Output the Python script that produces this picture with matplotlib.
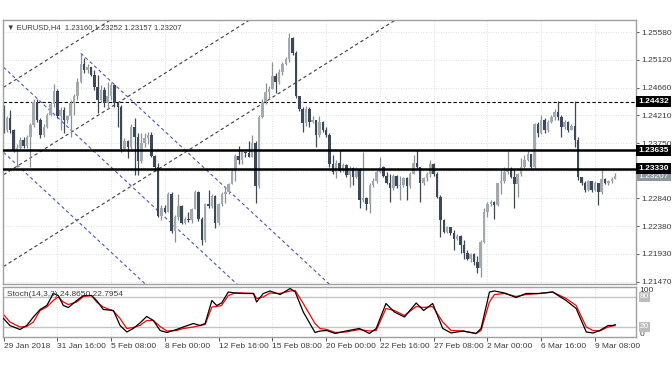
import matplotlib
matplotlib.use("Agg")
import matplotlib.pyplot as plt
import matplotlib.transforms as mtransforms
import numpy as np

plt.rcParams['font.family'] = ['Liberation Sans', 'DejaVu Sans']

# EURUSD H4 candles (bar 0 = 29 Jan 2018 00:00)
first_open = 1.2432
last_open = 1.23160

close = [
    1.2397, 1.2416, 1.2397, 1.2364, 1.2367, 1.2380, 1.2370, 1.2385, 1.2405, 1.2443,
    1.2413, 1.2388, 1.2402, 1.2421, 1.2440, 1.2461, 1.2419, 1.2430, 1.2413, 1.2419,
    1.2441, 1.2452, 1.2476, 1.2506, 1.2495, 1.2501, 1.2487, 1.2468, 1.2446, 1.2463,
    1.2441, 1.2453, 1.2471, 1.2441, 1.2434, 1.2365, 1.2378, 1.2368, 1.2402, 1.2386,
    1.2345, 1.2375, 1.2383, 1.2388, 1.2354, 1.2336, 1.2255, 1.2268, 1.2262, 1.2291,
    1.2231, 1.2253, 1.2272, 1.2244, 1.2251, 1.2249, 1.2266, 1.2294, 1.2250, 1.2215,
    1.2275, 1.2271, 1.2288, 1.2244, 1.2275, 1.2291, 1.2294, 1.2308, 1.2330, 1.2354,
    1.2347, 1.2361, 1.2359, 1.2353, 1.2376, 1.2305, 1.2418, 1.2443, 1.2460, 1.2465,
    1.2486, 1.2475, 1.2493, 1.2505, 1.2513, 1.2548, 1.2523, 1.2452, 1.2432, 1.2408,
    1.2432, 1.2410, 1.2414, 1.2388, 1.2410, 1.2397, 1.2388, 1.2341, 1.2328, 1.2343,
    1.2330, 1.2339, 1.2323, 1.2334, 1.2319, 1.2332, 1.2282, 1.2284, 1.2275, 1.2306,
    1.2313, 1.2328, 1.2335, 1.2321, 1.2310, 1.2301, 1.2321, 1.2305, 1.2306, 1.2317,
    1.2305, 1.2325, 1.2343, 1.2335, 1.2309, 1.2317, 1.2325, 1.2341, 1.2324, 1.2287,
    1.2249, 1.2229, 1.2237, 1.2227, 1.2217, 1.2222, 1.2207, 1.2194, 1.2184, 1.2193,
    1.2180, 1.2169, 1.2213, 1.2262, 1.2275, 1.2279, 1.2273, 1.2309, 1.2313, 1.2328,
    1.2331, 1.2320, 1.2308, 1.2324, 1.2336, 1.2348, 1.2357, 1.2336, 1.2407, 1.2391,
    1.2414, 1.2396, 1.2410, 1.2418, 1.2427, 1.2418, 1.2401, 1.2410, 1.2397, 1.2403,
    1.2381, 1.2319, 1.2309, 1.2298, 1.2312, 1.2298, 1.2310, 1.2294, 1.2316, 1.2309,
    1.2313, 1.2316, 1.23207]

high = [
    1.2438, 1.2420, 1.2430, 1.2399, 1.2374, 1.2386, 1.2385, 1.2388, 1.2408, 1.2448,
    1.2447, 1.2416, 1.2407, 1.2424, 1.2443, 1.2472, 1.2464, 1.2434, 1.2434, 1.2421,
    1.2446, 1.2456, 1.2482, 1.2523, 1.2515, 1.2506, 1.2501, 1.2496, 1.2487, 1.2471,
    1.2468, 1.2476, 1.2476, 1.2471, 1.2442, 1.2438, 1.2383, 1.2380, 1.2407, 1.2416,
    1.2391, 1.2391, 1.2391, 1.2394, 1.2394, 1.2356, 1.2342, 1.2273, 1.2273, 1.2295,
    1.2294, 1.2257, 1.2292, 1.2273, 1.2254, 1.2261, 1.2269, 1.2298, 1.2297, 1.2254,
    1.2277, 1.2298, 1.2292, 1.2290, 1.2277, 1.2295, 1.2305, 1.2310, 1.2332, 1.2358,
    1.2370, 1.2365, 1.2361, 1.2379, 1.2388, 1.2378, 1.2421, 1.2447, 1.2474, 1.2469,
    1.2509, 1.2491, 1.2497, 1.2508, 1.2517, 1.2556, 1.2550, 1.2526, 1.2453, 1.2434,
    1.2436, 1.2434, 1.2419, 1.2414, 1.2419, 1.2412, 1.2401, 1.2391, 1.2356, 1.2347,
    1.2364, 1.2343, 1.2341, 1.2337, 1.2336, 1.2335, 1.2334, 1.2361, 1.2287, 1.2310,
    1.2317, 1.2331, 1.2353, 1.2337, 1.2328, 1.2324, 1.2324, 1.2323, 1.2321, 1.2320,
    1.2319, 1.2328, 1.2356, 1.2364, 1.2336, 1.2320, 1.2328, 1.2347, 1.2342, 1.2328,
    1.2290, 1.2250, 1.2239, 1.2237, 1.2232, 1.2226, 1.2224, 1.2216, 1.2199, 1.2195,
    1.2194, 1.2189, 1.2216, 1.2268, 1.2279, 1.2282, 1.2280, 1.2310, 1.2331, 1.2336,
    1.2364, 1.2335, 1.2332, 1.2326, 1.2350, 1.2356, 1.2363, 1.2358, 1.2409, 1.2410,
    1.2421, 1.2416, 1.2413, 1.2421, 1.2432, 1.2444, 1.2421, 1.2413, 1.2412, 1.2407,
    1.2444, 1.2386, 1.2320, 1.2312, 1.2314, 1.2313, 1.2312, 1.2309, 1.2334, 1.2317,
    1.2315, 1.2319, 1.23252]

low = [
    1.2392, 1.2394, 1.2391, 1.2361, 1.2336, 1.2363, 1.2367, 1.2367, 1.2336, 1.2402,
    1.2410, 1.2383, 1.2386, 1.2400, 1.2419, 1.2435, 1.2416, 1.2397, 1.2391, 1.2408,
    1.2386, 1.2421, 1.2446, 1.2474, 1.2490, 1.2490, 1.2485, 1.2463, 1.2424, 1.2443,
    1.2435, 1.2432, 1.2446, 1.2435, 1.2402, 1.2361, 1.2363, 1.2350, 1.2365, 1.2323,
    1.2323, 1.2342, 1.2369, 1.2374, 1.2352, 1.2330, 1.2253, 1.2249, 1.2260, 1.2261,
    1.2227, 1.2213, 1.2249, 1.2242, 1.2242, 1.2246, 1.2244, 1.2268, 1.2247, 1.2207,
    1.2213, 1.2268, 1.2268, 1.2235, 1.2240, 1.2272, 1.2277, 1.2291, 1.2309, 1.2312,
    1.2341, 1.2341, 1.2352, 1.2352, 1.2352, 1.2276, 1.2302, 1.2416, 1.2440, 1.2447,
    1.2464, 1.2457, 1.2472, 1.2487, 1.2504, 1.2509, 1.2520, 1.2449, 1.2428, 1.2394,
    1.2403, 1.2402, 1.2408, 1.2369, 1.2386, 1.2394, 1.2385, 1.2335, 1.2325, 1.2317,
    1.2327, 1.2328, 1.2320, 1.2303, 1.2306, 1.2317, 1.2268, 1.2279, 1.2265, 1.2260,
    1.2303, 1.2309, 1.2326, 1.2319, 1.2308, 1.2279, 1.2298, 1.2302, 1.2281, 1.2303,
    1.2281, 1.2302, 1.2324, 1.2332, 1.2279, 1.2306, 1.2312, 1.2320, 1.2321, 1.2284,
    1.2221, 1.2227, 1.2227, 1.2224, 1.2199, 1.2216, 1.2194, 1.2185, 1.2182, 1.2180,
    1.2175, 1.2161, 1.2155, 1.2210, 1.2254, 1.2271, 1.2251, 1.2272, 1.2292, 1.2310,
    1.2324, 1.2317, 1.2268, 1.2287, 1.2321, 1.2334, 1.2345, 1.2331, 1.2334, 1.2386,
    1.2390, 1.2392, 1.2394, 1.2408, 1.2414, 1.2413, 1.2386, 1.2399, 1.2394, 1.2396,
    1.2369, 1.2315, 1.2306, 1.2295, 1.2297, 1.2295, 1.2297, 1.2273, 1.2291, 1.2307,
    1.2306, 1.2310, 1.23157]

# Stochastic(14,3,3): bar position, %K, %D
stoch_bar = [0, 1.9, 4.9, 6.9, 8.9, 10.9, 12.9, 14.8, 16.3, 17.8, 19.3, 21.8, 23.8,
             26.2, 27.7, 29.7, 32.7, 34.7, 36.7, 38.6, 40.6, 42.6, 44.6, 46.6, 48.6,
             51.5, 53.5, 56.5, 58.5, 60, 62, 63.4, 64.9, 66.9, 68.9, 71.4, 74.4, 75.3,
             77.3, 79.3, 82.3, 85.3, 86.8, 89.2, 92.7, 94.2, 96.2, 98.7, 101.9, 105.9,
             108.9, 110.9, 113.8, 116.3, 119.3, 122.8, 125, 127.7, 130.7, 133.2, 136.7,
             140.6, 142.1, 144.6, 146.1, 149.1, 152.5, 155.5, 159.4, 163.4, 167.4,
             170.4, 173.4, 175.4, 177.4, 179.9, 181.3, 182]
stoch_k = [37, 23, 15, 23, 40, 55, 63, 87, 83, 63, 59, 73, 83,
           83, 73, 55, 53, 23, 10, 17, 28, 41, 33, 13, 9,
           15, 20, 27, 23, 27, 73, 63, 68, 90, 88, 87, 87, 70,
           87, 92, 85, 97, 90, 50, 9, 12, 13, 7, 12, 17,
           7, 17, 67, 50, 40, 68, 53, 67, 17, 8, 12,
           7, 17, 90, 92, 88, 79, 87, 87, 90, 73,
           57, 10, 8, 13, 23, 23, 24.865]
stoch_d = [45, 30, 20, 21, 30, 53, 60, 73, 80, 70, 65, 70, 81,
           83, 70, 60, 52, 37, 17, 19, 23, 33, 33, 21, 12,
           13, 17, 20, 23, 25, 60, 61, 63, 83, 88, 88, 87, 77,
           80, 88, 87, 92, 93, 67, 27, 17, 15, 9, 10, 15,
           12, 13, 57, 53, 43, 61, 59, 61, 30, 13, 12,
           7, 13, 70, 85, 87, 81, 85, 87, 90, 77,
           63, 20, 13, 12, 20, 22, 22.795]

date_bars = [0, 16, 32, 48, 64, 80, 96, 112, 128, 144, 160, 176]
date_labels = ['29 Jan 2018', '31 Jan 16:00', '5 Feb 08:00', '8 Feb 00:00',
               '12 Feb 16:00', '15 Feb 08:00', '20 Feb 00:00', '22 Feb 16:00',
               '27 Feb 08:00', '2 Mar 00:00', '6 Mar 16:00', '9 Mar 08:00']
price_ticks = [1.2558, 1.2512, 1.2466, 1.2421, 1.2375, 1.2329, 1.2284, 1.2238, 1.2193, 1.2147]
# 1.23290 sits under the level boxes in the original, so it gets no label
hidden_tick = 1.2329

dashed_level = 1.24432
solid_levels = [1.23635, 1.23330]
last_price = 1.23207

# drawing objects: rising channel (start price at bar 0, slope per bar)
channel_starts = [1.2467, 1.2323, 1.2172]
channel_slope = 0.000348
# falling blue lines: (start bar, start price)
fall_lines = [(0, 1.2360), (0, 1.2500), (23, 1.2523)]
fall_slope = -0.000514

bull_body = '#a4a9ae'
bull_wick = '#8a9096'
bear_body = '#3a4858'
frame = '#a0a0a0'
grid_c = '#d6d6d6'
txt_c = '#3a3a3a'

W, H = 672, 372
fig = plt.figure(figsize=(W / 100, H / 100), dpi=100)
ax = fig.add_axes([3 / W, (H - 284) / H, 633 / W, 264 / H])
ax2 = fig.add_axes([3 / W, (H - 337) / H, 633 / W, 50 / H])

xlim = (-0.15, 188.2)
n = min(len(close), len(high), len(low))
x = np.arange(n)
c = np.array(close[:n])
o = np.r_[first_open, c[:-1]]
o[-1] = last_open
h = np.maximum(np.array(high[:n]), np.maximum(o, c))
l = np.minimum(np.array(low[:n]), np.minimum(o, c))
up = c >= o

# grid
for p in price_ticks:
    ax.axhline(p, color=grid_c, lw=0.6, ls=(0, (1, 2)), zorder=0)
for b in date_bars[1:]:
    ax.axvline(b, color=grid_c, lw=0.6, ls=(0, (1, 2)), zorder=0)
    ax2.axvline(b, color=grid_c, lw=0.6, ls=(0, (1, 2)), zorder=0)

# candles
ax.vlines(x[up], l[up], h[up], color=bull_wick, lw=0.9, zorder=2)
ax.vlines(x[~up], l[~up], h[~up], color=bear_body, lw=0.9, zorder=2)
body = np.maximum(np.abs(c - o), 0.00003)
ax.bar(x, body, bottom=np.minimum(o, c), width=0.75,
       color=np.where(up, bull_body, bear_body), linewidth=0, zorder=2)

# drawing objects
for p0 in channel_starts:
    ax.plot([0, 200], [p0, p0 + channel_slope * 200], color='#3c3c3c',
            lw=0.8, ls=(0, (3, 2.5)), zorder=1)
for b0, p0 in fall_lines:
    ax.plot([b0, 200], [p0, p0 + fall_slope * (200 - b0)], color='#5050c0',
            lw=0.8, ls=(0, (3, 2.5)), zorder=1)
ax.axhline(dashed_level, color='black', lw=0.8, ls=(0, (3, 2)), zorder=1)
for lv in solid_levels:
    ax.axhline(lv, color='black', lw=1.8, zorder=3)

ax.set_xlim(*xlim)
ax.set_ylim(1.21432, 1.25778)
ax.set_xticks([])
ax.yaxis.tick_right()
ax.set_yticks(price_ticks)
ax.set_yticklabels(['' if p == hidden_tick else '%.5f' % p for p in price_ticks])
ax.tick_params(axis='y', length=2.5, width=0.6, pad=1.5, labelsize=6,
               colors=txt_c)
for s in ax.spines.values():
    s.set_color(frame)
    s.set_linewidth(1)

# price labels on the right scale
trans = mtransforms.blended_transform_factory(ax.transAxes, ax.transData)
ax.text(1.004, last_price, '%.5f' % last_price, transform=trans, ha='left',
        va='center', fontsize=6, color='white', clip_on=False, zorder=4,
        bbox=dict(boxstyle='square,pad=0.2', fc='#8c959e', ec='none'))
for lv in [dashed_level] + solid_levels:
    ax.text(1.004, lv, '%.5f' % lv, transform=trans, ha='left', va='center',
            fontsize=6, color='white', fontweight='bold', clip_on=False, zorder=5,
            bbox=dict(boxstyle='square,pad=0.25', fc='black', ec='none'))

ax.text(0.006, 0.973, '\u25bc EURUSD,H4  1.23160 1.23252 1.23157 1.23207',
        transform=ax.transAxes, ha='left', va='center', fontsize=5.5, color=txt_c)

# stochastic panel
ax2.axhline(80, color='#c4c4c4', lw=1, zorder=1)
ax2.axhline(20, color='#c4c4c4', lw=1, zorder=1)
ax2.plot(stoch_bar, stoch_k, color='black', lw=0.9, zorder=3)
ax2.plot(stoch_bar, stoch_d, color='red', lw=0.9, zorder=2)
ax2.set_xlim(*xlim)
ax2.set_ylim(0, 100)
ax2.set_yticks([])
ax2.set_xticks(date_bars)
ax2.set_xticklabels(date_labels, ha='left')
ax2.tick_params(axis='x', length=3, width=0.6, pad=1.5, labelsize=6, colors=txt_c)
for s in ax2.spines.values():
    s.set_color(frame)
    s.set_linewidth(1)

trans2 = mtransforms.blended_transform_factory(ax2.transAxes, ax2.transData)
ax2.text(1.006, 93, '100', transform=trans2, ha='left', va='center',
         fontsize=6, color=txt_c, clip_on=False)
ax2.text(1.006, 5, '0', transform=trans2, ha='left', va='center',
         fontsize=6, color=txt_c, clip_on=False)
for lv in [80, 20]:
    ax2.text(1.006, lv, str(lv), transform=trans2, ha='left', va='center',
             fontsize=6, color='white', clip_on=False, zorder=4,
             bbox=dict(boxstyle='square,pad=0.15', fc='#bdbdbd', ec='none'))
ax2.text(0.006, 0.86, 'Stoch(14,3,3) 24.8650 22.7954', transform=ax2.transAxes,
         ha='left', va='center', fontsize=6, color=txt_c)

fig.savefig('out.png', dpi=100, facecolor='white')
